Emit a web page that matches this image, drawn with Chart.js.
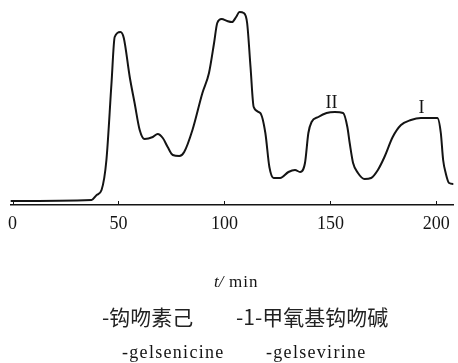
<!DOCTYPE html>
<html>
<head>
<meta charset="utf-8">
<script src="https://cdn.jsdelivr.net/npm/chart.js@4/dist/chart.umd.min.js"></script>
<style>
  html, body { margin: 0; padding: 0; background: #fff; }
  #wrap { width: 458px; height: 363px; }
</style>
</head>
<body>
<div id="wrap"><canvas id="c" width="458" height="363"></canvas></div>
<script>
// elution time (min) and detector response (arbitrary units)
const times = [-1, 37.3, 39.7, 42, 44.3, 46.7, 48.2, 50.9, 52.5, 55.3, 57.6, 60, 62.3, 66.2, 68.5, 70.9,
  73.2, 75.6, 78.7, 81, 84.9, 89.6, 92.7, 95.1, 96.6, 98.7, 101.3, 103.6, 105.5, 107.1, 109.1, 110.7,
  112.3, 113.8, 116.9, 119.3, 121.2, 123.2, 126.3, 130.2, 133.3, 135.7, 138, 139.6, 141.1, 144.3, 148.2,
  152.1, 156, 158, 159.1, 160.7, 163, 166.1, 169.2, 172.4, 175.5, 179.4, 183.3, 188, 192.7, 200.5,
  202.1, 203.2, 204.4, 206, 208.3];
const response = [0, 1, 6, 11, 41, 118, 164, 169, 163, 124, 98, 71, 62, 64, 67, 63,
  54, 46, 45, 49, 71, 108, 128, 158, 178, 182, 180, 179, 184, 189, 188, 178,
  134, 94, 88, 68, 34, 23, 23, 29, 31, 29, 38, 68, 79, 84, 88,
  89, 88, 74, 58, 38, 28, 22, 23, 31, 44, 64, 76, 81, 83, 83,
  68, 41, 28, 18, 17];
const tickValues = [0, 50, 100, 150, 200];
const peakLabels = [{ x: 150.5, y: 98, text: "II" }, { x: 193, y: 93, text: "I" }];
const axisTitle = "min";
const legendZh = ["-钩吻素己", "-1-甲氧基钩吻碱"];
const legendEn = ["-gelsenicine", "-gelsevirine"];

const serif = "'Liberation Serif', 'DejaVu Serif', serif";
const ink = "#141414";

const extras = {
  id: "extras",
  afterDraw(chart) {
    const { ctx, scales: { x, y }, chartArea } = chart;
    ctx.save();
    // ticks pointing up from the axis line
    ctx.strokeStyle = ink;
    ctx.lineWidth = 1;
    tickValues.forEach((v) => {
      const px = Math.round(x.getPixelForValue(v)) + 0.5;
      ctx.beginPath();
      ctx.moveTo(px, chartArea.bottom);
      ctx.lineTo(px, chartArea.bottom - 4);
      ctx.stroke();
    });
    // peak labels
    ctx.fillStyle = ink;
    ctx.font = "18px " + serif;
    ctx.textAlign = "center";
    ctx.textBaseline = "middle";
    peakLabels.forEach((p) => ctx.fillText(p.text, x.getPixelForValue(p.x), y.getPixelForValue(p.y)));
    // axis title
    ctx.textAlign = "left";
    ctx.font = "italic 17px " + serif;
    ctx.fillText("t/", 214, 283);
    ctx.font = "17px " + serif;
    ctx.letterSpacing = "1px";
    ctx.fillText(axisTitle, 229, 283);
    // compound names
    ctx.letterSpacing = "0px";
    ctx.fillStyle = "#222";
    ctx.font = "21px 'Noto Sans CJK SC', sans-serif";
    ctx.fillText(legendZh[0], 102, 317);
    ctx.fillText(legendZh[1], 236, 317);
    ctx.fillStyle = ink;
    ctx.font = "18px " + serif;
    ctx.letterSpacing = "1.3px";
    ctx.fillText(legendEn[0], 122, 353);
    ctx.fillText(legendEn[1], 266, 353);
    ctx.restore();
  },
};

new Chart(document.getElementById("c"), {
  type: "line",
  data: {
    datasets: [{
      data: times.map((t, i) => ({ x: t, y: response[i] })),
      borderColor: ink,
      borderWidth: 2,
      pointRadius: 0,
      cubicInterpolationMode: "monotone",
      fill: false,
    }],
  },
  options: {
    responsive: false,
    animation: false,
    layout: { padding: { left: 10, right: 4, top: 10, bottom: 0 } },
    plugins: { legend: { display: false }, tooltip: { enabled: false } },
    scales: {
      x: {
        type: "linear",
        min: -1,
        max: 208,
        afterBuildTicks: (axis) => { axis.ticks = tickValues.map((v) => ({ value: v })); },
        grid: { display: false, drawTicks: false },
        border: { display: true, color: ink, width: 1.5 },
        ticks: { color: ink, font: { family: serif, size: 18 }, padding: 8, maxRotation: 0, autoSkip: false },
        afterFit: (axis) => { axis.height = 158; },
      },
      y: { display: false, min: -4, max: 191 },
    },
  },
  plugins: [extras],
});
</script>
</body>
</html>
